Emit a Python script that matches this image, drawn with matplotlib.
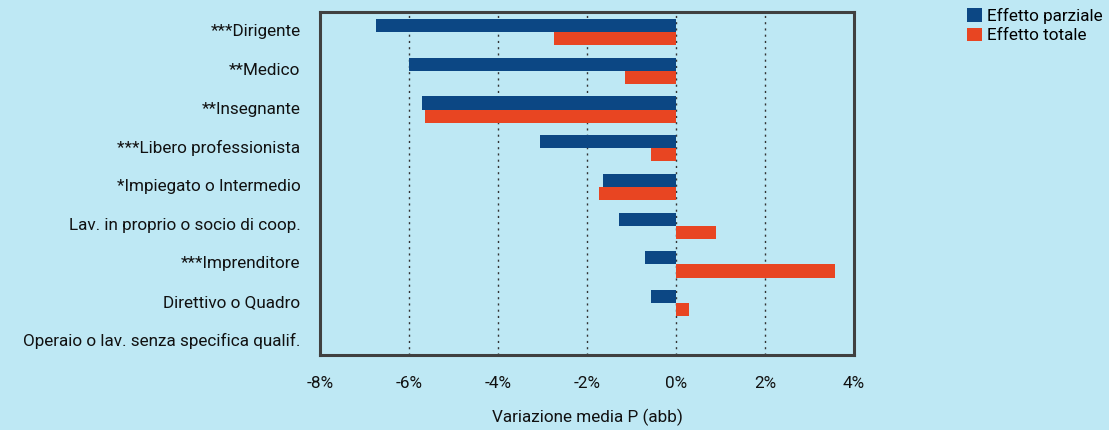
import matplotlib.pyplot as plt
import numpy as np

categories = ['***Dirigente', '**Medico', '**Insegnante', '***Libero professionista',
              '*Impiegato o Intermedio', 'Lav. in proprio o socio di coop.',
              '***Imprenditore', 'Direttivo o Quadro',
              'Operaio o lav. senza specifica qualif.']
parziale = [-6.75, -6.0, -5.7, -3.05, -1.65, -1.28, -0.7, -0.55, 0.0]
totale = [-2.75, -1.15, -5.65, -0.55, -1.72, 0.9, 3.58, 0.29, 0.0]

bg = '#BEE8F4'
blue = '#0C4784'
orange = '#E84522'
fs = 12.3

plt.rcParams['font.family'] = ['Roboto', 'DejaVu Sans']

fig = plt.figure(figsize=(11.09, 4.30), dpi=100, facecolor=bg)
ax = fig.add_axes([0.2885, 0.1744, 0.4815, 0.7977], facecolor=bg)

y = np.arange(len(categories))
h = 0.34
ax.barh(y - h / 2, parziale, height=h, color=blue, label='Effetto parziale')
ax.barh(y + h / 2, totale, height=h, color=orange, label='Effetto totale')

ax.set_xlim(-8, 4)
ax.set_ylim(len(categories) - 1 + 0.34, -0.52)
ax.set_yticks(y - 0.05)
ax.set_yticklabels(categories, fontsize=fs, color='#111111')
ax.set_xticks(np.arange(-8, 5, 2))
ax.set_xticklabels([f'{v}%' for v in range(-8, 5, 2)], fontsize=fs, color='#111111')
ax.tick_params(length=0, pad=15)
ax.tick_params(axis='y', pad=14)

for v in [-6, -4, -2, 0, 2]:
    ax.axvline(v, color='#333333', lw=1, ls=(0, (1.5, 3)), zorder=0)

for s in ax.spines.values():
    s.set_color('#404040')
    s.set_linewidth(2.2)

ax.set_xlabel('Variazione media P (abb)', fontsize=fs, color='#111111', labelpad=13)

fig.legend(loc='upper left', bbox_to_anchor=(0.866, 0.997), frameon=False,
           fontsize=fs, handlelength=0.85, handleheight=0.85, handletextpad=0.3,
           labelspacing=0.2, borderaxespad=0)

fig.savefig('out.png', dpi=100, facecolor=bg)
